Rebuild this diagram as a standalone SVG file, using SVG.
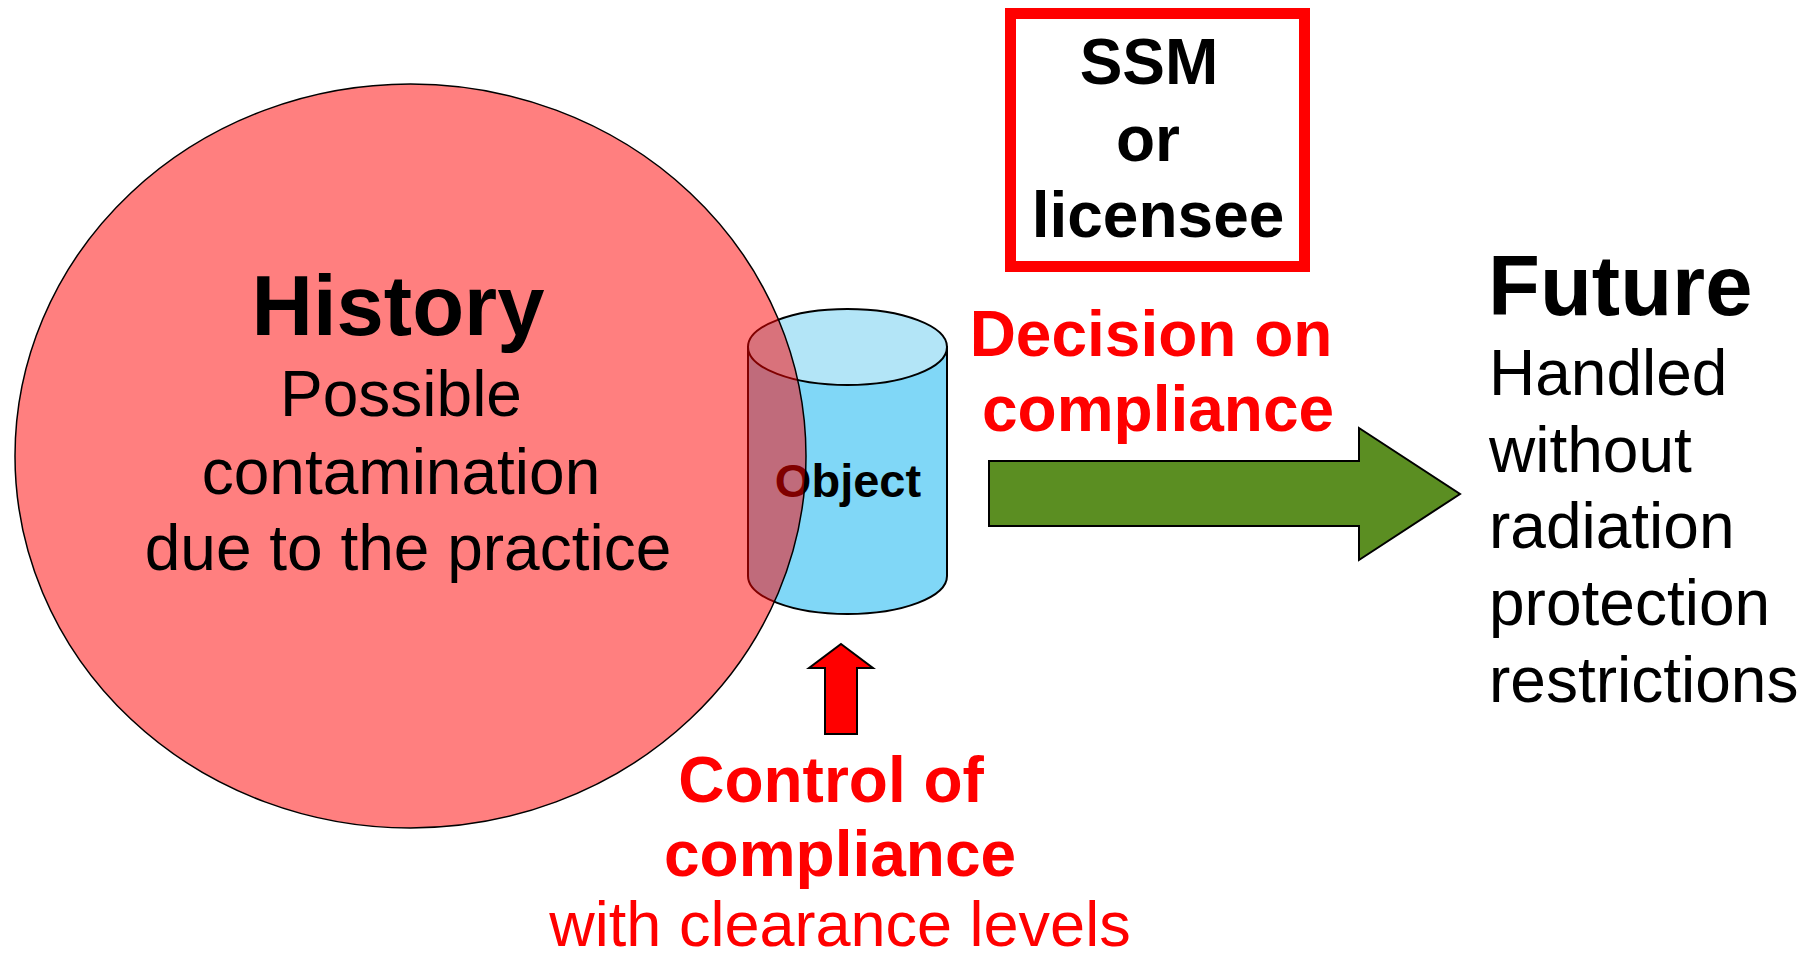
<svg xmlns="http://www.w3.org/2000/svg" width="1813" height="961" viewBox="0 0 1813 961">
  <style>
    text { font-family: "Liberation Sans", Arial, sans-serif; }
    .bold { font-weight: bold; }
    .ctr { text-anchor: middle; }
    .red { fill: #FF0000; }
    .blk { fill: #000000; }
    .outline { stroke: #000000; stroke-width: 2; }
  </style>
  <rect width="1813" height="961" fill="#FFFFFF"/>

  <!-- Object cylinder (drawn first so the history field tints it) -->
  <g id="object">
    <path class="outline" fill="#80D7F7" d="M748,347 L748,576 A99.5,38 0 0 0 947,576 L947,347 Z"/>
    <ellipse class="outline" cx="847.5" cy="347" rx="99.5" ry="38" fill="#B3E5F7"/>
    <text class="bold ctr blk" x="848" y="497" font-size="47">Object</text>
  </g>

  <!-- History field: translucent red ellipse -->
  <g id="history">
    <ellipse cx="410.5" cy="456" rx="395.5" ry="372" fill="#FF0000" fill-opacity="0.5" stroke="#000000" stroke-width="1.5"/>
    <text class="bold ctr blk" x="398" y="335" font-size="85">History</text>
    <text class="ctr blk" x="401" y="416" font-size="64">Possible</text>
    <text class="ctr blk" x="401" y="494" font-size="64">contamination</text>
    <text class="ctr blk" x="408" y="570" font-size="64">due to the practice</text>
  </g>

  <!-- Decision maker box -->
  <g id="ssm">
    <rect x="1010.5" y="13.5" width="294" height="253" fill="#FFFFFF" stroke="#FF0000" stroke-width="11"/>
    <text class="bold ctr blk" x="1149" y="84" font-size="64">SSM</text>
    <text class="bold ctr blk" x="1148" y="161" font-size="64">or</text>
    <text class="bold ctr blk" x="1158" y="237" font-size="64">licensee</text>
  </g>

  <!-- Labels -->
  <g id="decision">
    <text class="bold ctr red" x="1151" y="356" font-size="64">Decision on</text>
    <text class="bold ctr red" x="1158" y="431" font-size="64">compliance</text>
  </g>

  <g id="control">
    <text class="bold ctr red" x="831" y="802" font-size="64">Control of</text>
    <text class="bold ctr red" x="840" y="876" font-size="64">compliance</text>
    <text class="ctr red" x="840" y="946" font-size="63">with clearance levels</text>
  </g>

  <g id="future">
    <text class="bold blk" x="1488" y="315" font-size="85">Future</text>
    <text class="blk" x="1489" y="395" font-size="64">Handled</text>
    <text class="blk" x="1489" y="472" font-size="64">without</text>
    <text class="blk" x="1489" y="548" font-size="64">radiation</text>
    <text class="blk" x="1489" y="625" font-size="64">protection</text>
    <text class="blk" x="1489" y="702" font-size="64">restrictions</text>
  </g>

  <!-- Block arrows -->
  <g id="connectors">
    <path fill="#5B8E22" stroke="#000000" stroke-width="2" d="M989,461 L1359,461 L1359,428 L1460,494 L1359,560 L1359,526 L989,526 Z"/>
    <path fill="#FF0000" stroke="#000000" stroke-width="2" d="M841,644 L873,668 L857,668 L857,734 L825,734 L825,668 L809,668 Z"/>
  </g>
</svg>
